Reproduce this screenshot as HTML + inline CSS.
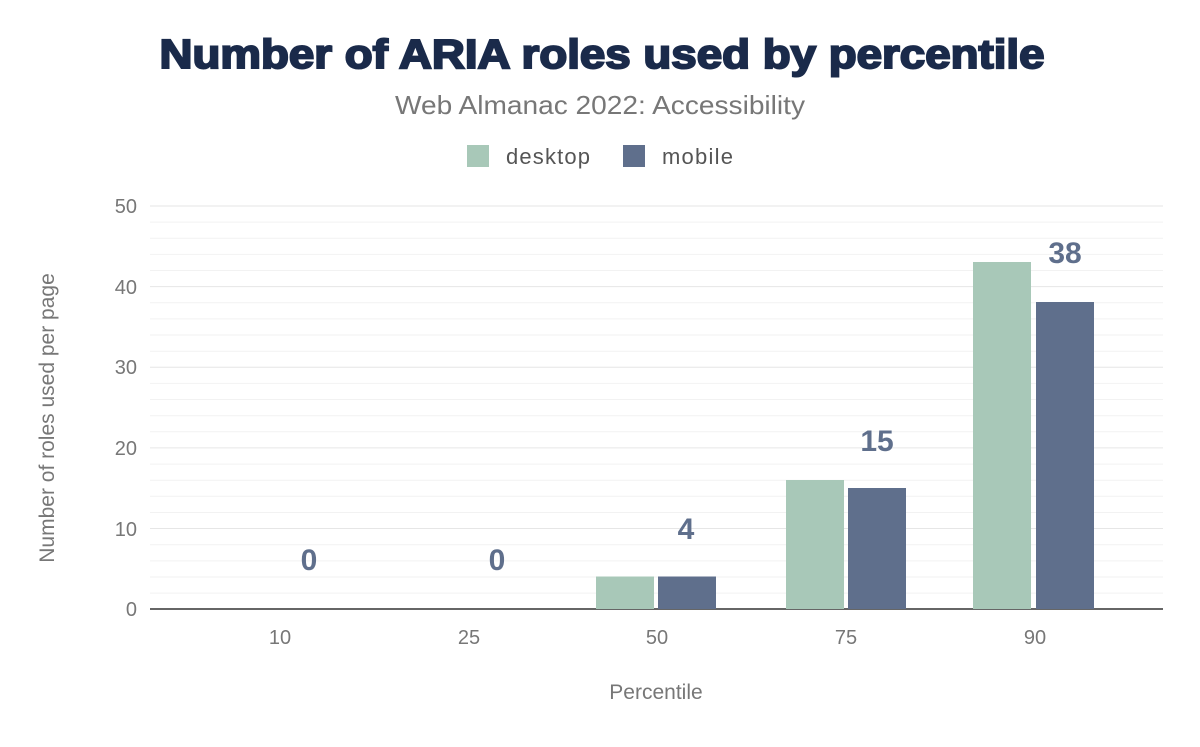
<!DOCTYPE html>
<html><head><meta charset="utf-8"><style>
body{margin:0;background:#fff;}
svg text{font-family:"Liberation Sans",sans-serif;}
</style></head><body>
<svg width="1200" height="742" xmlns="http://www.w3.org/2000/svg">
<rect width="1200" height="742" fill="#fff"/>
<text x="602" y="68" text-anchor="middle" font-size="41" font-weight="900" fill="#1a2a4a" stroke="#1a2a4a" stroke-width="2" textLength="885" lengthAdjust="spacingAndGlyphs">Number of ARIA roles used by percentile</text>
<text x="600" y="114" text-anchor="middle" font-size="26" fill="#777" textLength="410" lengthAdjust="spacingAndGlyphs">Web Almanac 2022: Accessibility</text>
<rect x="467" y="145" width="22" height="22" fill="#a8c8b8"/>
<text x="506" y="164" font-size="22" fill="#555" textLength="84">desktop</text>
<rect x="623" y="145" width="22" height="22" fill="#5f6f8c"/>
<text x="662" y="164" font-size="22" fill="#555" textLength="71">mobile</text>
<g stroke="#f2f2f2" stroke-width="1">
<line x1="150" x2="1163" y1="222.1" y2="222.1"/><line x1="150" x2="1163" y1="238.2" y2="238.2"/><line x1="150" x2="1163" y1="254.4" y2="254.4"/><line x1="150" x2="1163" y1="270.5" y2="270.5"/>
<line x1="150" x2="1163" y1="302.7" y2="302.7"/><line x1="150" x2="1163" y1="318.9" y2="318.9"/><line x1="150" x2="1163" y1="335" y2="335"/><line x1="150" x2="1163" y1="351.2" y2="351.2"/>
<line x1="150" x2="1163" y1="383.4" y2="383.4"/><line x1="150" x2="1163" y1="399.5" y2="399.5"/><line x1="150" x2="1163" y1="415.7" y2="415.7"/><line x1="150" x2="1163" y1="431.8" y2="431.8"/>
<line x1="150" x2="1163" y1="464.1" y2="464.1"/><line x1="150" x2="1163" y1="480.2" y2="480.2"/><line x1="150" x2="1163" y1="496.3" y2="496.3"/><line x1="150" x2="1163" y1="512.5" y2="512.5"/>
<line x1="150" x2="1163" y1="544.7" y2="544.7"/><line x1="150" x2="1163" y1="560.9" y2="560.9"/><line x1="150" x2="1163" y1="577" y2="577"/><line x1="150" x2="1163" y1="593.1" y2="593.1"/>
</g>
<g stroke="#e6e6e6" stroke-width="1">
<line x1="150" x2="1163" y1="206" y2="206"/><line x1="150" x2="1163" y1="286.6" y2="286.6"/><line x1="150" x2="1163" y1="367.2" y2="367.2"/><line x1="150" x2="1163" y1="447.9" y2="447.9"/><line x1="150" x2="1163" y1="528.5" y2="528.5"/>
</g>
<line x1="150" x2="1163" y1="609" y2="609" stroke="#333" stroke-width="1.5"/>
<g font-size="20" fill="#777" text-anchor="end">
<text x="137" y="213">50</text><text x="137" y="294">40</text><text x="137" y="374">30</text><text x="137" y="455">20</text><text x="137" y="536">10</text><text x="137" y="616">0</text>
</g>
<g font-size="20" fill="#777" text-anchor="middle">
<text x="280" y="644">10</text><text x="469" y="644">25</text><text x="657" y="644">50</text><text x="846" y="644">75</text><text x="1035" y="644">90</text>
</g>
<text x="656" y="699" text-anchor="middle" font-size="21" fill="#777">Percentile</text>
<text transform="translate(54,418) rotate(-90)" text-anchor="middle" font-size="21" fill="#777">Number of roles used per page</text>
<rect x="596" y="576.5" width="58" height="32.5" fill="#a8c8b8"/>
<rect x="658" y="576.5" width="58" height="32.5" fill="#5f6f8c"/>
<rect x="786" y="480" width="58" height="129" fill="#a8c8b8"/>
<rect x="848" y="488" width="58" height="121" fill="#5f6f8c"/>
<rect x="973" y="262" width="58" height="347" fill="#a8c8b8"/>
<rect x="1036" y="302" width="58" height="307" fill="#5f6f8c"/>
<g font-size="30" font-weight="bold" fill="#5f6f8c" text-anchor="middle">
<text x="309" y="570">0</text><text x="497" y="570">0</text><text x="686" y="539">4</text><text x="877" y="451">15</text><text x="1065" y="263">38</text>
</g>
</svg>
</body></html>
